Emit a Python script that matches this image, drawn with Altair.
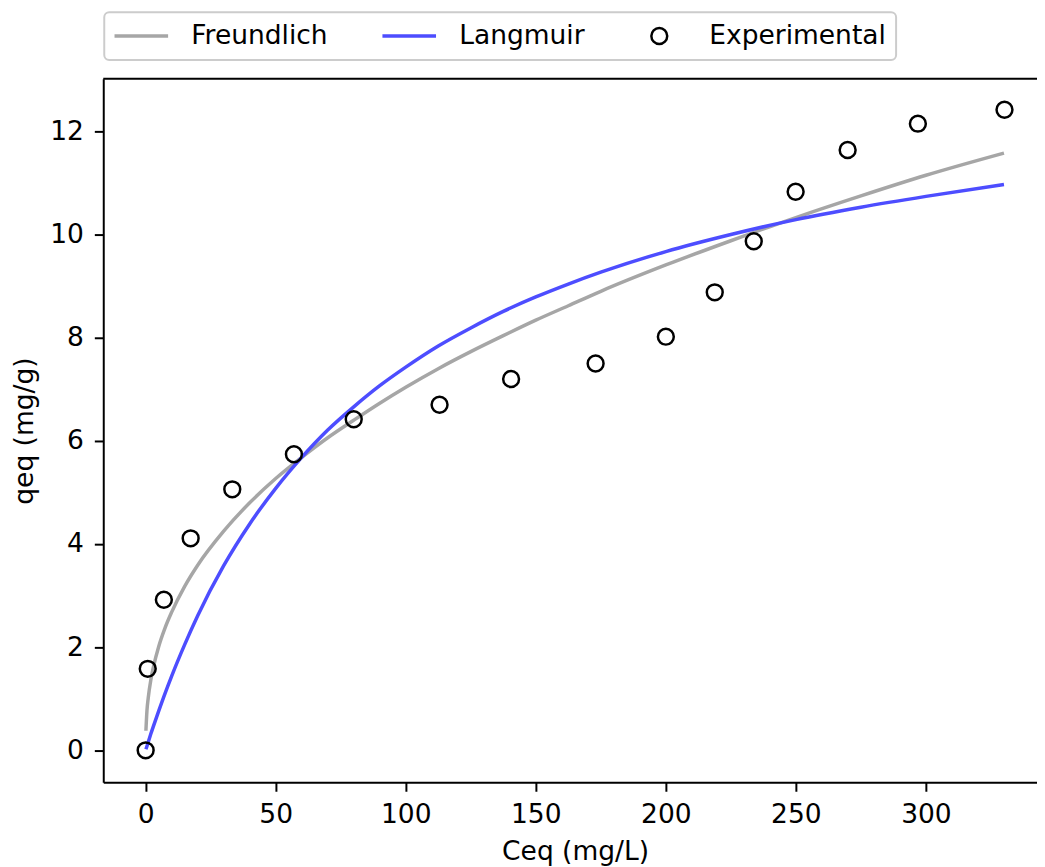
import altair as alt
import pandas as pd

# ---------------- data ----------------
series_names = ["Freundlich", "Langmuir", "Experimental"]
series_colors = ["#a6a6a6", "#4d4dff", "#000000"]
# line handle drawn as a long horizontal stroke, experimental as a circle
series_shapes = ["M-3.375,0H3.375", "M-3.375,0H3.375", "circle"]
series_widths = [3.5, 3.5, 2.5]

exp_ceq = [0.0, 0.8, 7.0, 17.3, 33.3, 57.0, 80.0, 113.0, 140.5, 173.0, 200.0,
           218.8, 233.8, 249.9, 269.9, 296.9, 330.2]
exp_qeq = [0.0, 1.58, 2.92, 4.11, 5.06, 5.74, 6.42, 6.70, 7.20, 7.50, 8.02,
           8.88, 9.87, 10.83, 11.64, 12.15, 12.42]

curve_ceq = [0.1, 0.5, 1, 2, 3, 5, 7.5, 10, 15, 20, 30, 40, 50, 60, 70, 80,
             90, 100, 112.5, 125, 137.5, 150, 162.5, 175, 200, 225, 250, 275,
             300, 330]
freundlich_qeq = [0.38, 0.77, 1.02, 1.37, 1.62, 2.01, 2.38, 2.68, 3.18, 3.59,
                  4.25, 4.80, 5.27, 5.68, 6.06, 6.40, 6.73, 7.04, 7.40, 7.73,
                  8.04, 8.34, 8.62, 8.90, 9.41, 9.88, 10.33, 10.75, 11.15,
                  11.58]
langmuir_qeq = [0.02, 0.08, 0.16, 0.32, 0.47, 0.76, 1.11, 1.44, 2.05, 2.61,
                3.58, 4.39, 5.08, 5.68, 6.21, 6.66, 7.07, 7.43, 7.84, 8.19,
                8.51, 8.79, 9.04, 9.27, 9.67, 10.00, 10.29, 10.53, 10.74,
                10.97]

x_ticks = [0, 50, 100, 150, 200, 250, 300]
y_ticks = [0, 2, 4, 6, 8, 10, 12]

rows = []
for c, q in zip(curve_ceq, freundlich_qeq):
    rows.append({"ceq": c, "qeq": q, "series": "Freundlich"})
for c, q in zip(curve_ceq, langmuir_qeq):
    rows.append({"ceq": c, "qeq": q, "series": "Langmuir"})
for c, q in zip(exp_ceq, exp_qeq):
    rows.append({"ceq": c, "qeq": q, "series": "Experimental"})
df = pd.DataFrame(rows)

# ---------------- styling ----------------
FONT = "DejaVu Sans"
FS = 26.7
PLOT_W = 941
PLOT_H = 709

legend = alt.Legend(
    title=None,
    orient="none",
    legendX=1,
    legendY=-67,
    direction="horizontal",
    symbolSize=256,
    symbolFillColor="transparent",
    symbolOffset=14,
    labelFont=FONT,
    labelFontSize=FS,
    labelColor="black",
    labelOffset=37,
    labelLimit=400,
    columnPadding=47,
    padding=10,
    strokeColor="#cccccc",
    fillColor="white",
    cornerRadius=5,
)

stroke_enc = alt.Stroke(
    "series:N",
    scale=alt.Scale(domain=series_names, range=series_colors),
    legend=legend,
)
width_enc = alt.StrokeWidth(
    "series:N",
    scale=alt.Scale(type="ordinal", domain=series_names, range=series_widths),
    legend=legend,
)
shape_enc = alt.Shape(
    "series:N",
    scale=alt.Scale(domain=series_names, range=series_shapes),
    legend=legend,
)

x_enc = alt.X(
    "ceq:Q",
    scale=alt.Scale(domain=[-16.3, 342.7], nice=False, zero=False),
    axis=alt.Axis(
        values=x_ticks,
        title="Ceq (mg/L)",
        titleX=475.5,
        titleY=78,
        titleBaseline="alphabetic",
        titleAlign="center",
        labelPadding=10,
    ),
)
y_enc = alt.Y(
    "qeq:Q",
    scale=alt.Scale(domain=[-0.62, 13.02], nice=False, zero=False),
    axis=alt.Axis(
        values=y_ticks,
        title="qeq (mg/g)",
        titleAngle=270,
        titleX=-71,
        titleY=354.5,
        titleBaseline="alphabetic",
        titleAlign="center",
        labelPadding=11,
    ),
)

base = alt.Chart(df)

lines = base.transform_filter(
    "datum.series !== 'Experimental'"
).mark_line(interpolate="monotone").encode(
    x=x_enc, y=y_enc, stroke=stroke_enc, strokeWidth=width_enc, detail="series:N"
)

points = base.transform_filter(
    "datum.series === 'Experimental'"
).mark_point(filled=False, opacity=1, size=256).encode(
    x=x_enc, y=y_enc, stroke=stroke_enc, strokeWidth=width_enc, shape=shape_enc
)

top_border = alt.Chart(alt.Data(values=[{}])).mark_rule(
    color="black", strokeWidth=2
).encode(x=alt.value(0), x2=alt.value(PLOT_W), y=alt.value(0))

chart = alt.layer(lines, points, top_border).properties(
    width=PLOT_W,
    height=PLOT_H,
    autosize=alt.AutoSizeParams(type="none"),
    padding={"left": 96, "top": 68, "right": 0, "bottom": 82},
).configure(
    font=FONT,
).configure_view(
    strokeWidth=0,
).configure_legend(
    strokeWidth=2,
).configure_axis(
    grid=False,
    labelFont=FONT,
    labelFontSize=FS,
    labelColor="black",
    titleFont=FONT,
    titleFontSize=FS,
    titleFontWeight="normal",
    titleColor="black",
    tickColor="black",
    tickWidth=2,
    tickSize=9,
    domainColor="black",
    domainWidth=2,
)

chart.save("out.html", embed_options={"renderer": "svg", "actions": False})
